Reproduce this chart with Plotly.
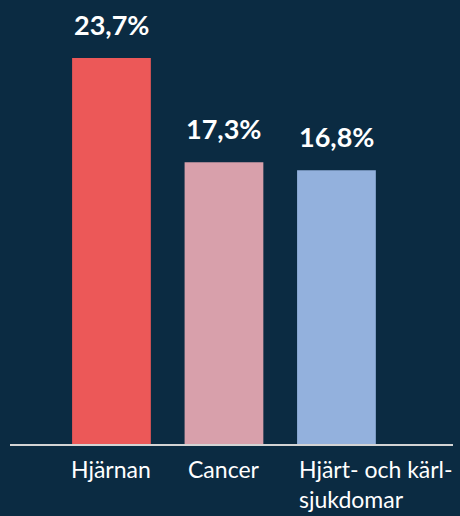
import plotly.graph_objects as go

categories = ["Hjärnan", "Cancer", "Hjärt- och kärl-sjukdomar"]
category_labels = ["Hjärnan", "Cancer", "Hjärt- och kärl-<br>sjukdomar"]
values = [23.7, 17.3, 16.8]
value_labels = ["23,7%", "17,3%", "16,8%"]
colors = ["#ec5858", "#d8a0ab", "#93b1dd"]

BG = "#0b2b42"
FONT = "Lato"

fig = go.Figure()
fig.add_trace(go.Bar(
    x=categories, y=values, marker=dict(color=colors, line=dict(width=0)),
    width=0.70, hoverinfo="skip",
))

for i, (c, v, t) in enumerate(zip(categories, values, value_labels)):
    fig.add_annotation(x=c, y=v, xref="x", yref="y", text=t, showarrow=False,
                       yanchor="bottom", yshift=15,
                       font=dict(family=FONT, size=27, color="white", weight="bold"))

for i, (c, lab) in enumerate(zip(categories, category_labels)):
    last = i == len(categories) - 1
    fig.add_annotation(x=c, y=0, xref="x", yref="y", text=lab, showarrow=False,
                       yanchor="top", yshift=-9,
                       xanchor="left" if last else "center",
                       xshift=-39.5 if last else 0,
                       align="left",
                       font=dict(family=FONT, size=23, color="white"))

fig.update_layout(
    width=460, height=516,
    margin=dict(l=10, r=7, t=0, b=72),
    paper_bgcolor=BG, plot_bgcolor=BG,
    showlegend=False,
    xaxis=dict(range=[-0.902, 3.036], showticklabels=False, ticks="",
               showgrid=False, zeroline=False, showline=True,
               linecolor="#d4d4d4", linewidth=1.5, fixedrange=True),
    yaxis=dict(range=[0, 27.26], visible=False, showgrid=False, zeroline=False,
               fixedrange=True),
)

fig.write_html("out.html", config={"displayModeBar": False},
               post_script="document.body.style.margin='0';document.body.style.overflow='hidden';")
